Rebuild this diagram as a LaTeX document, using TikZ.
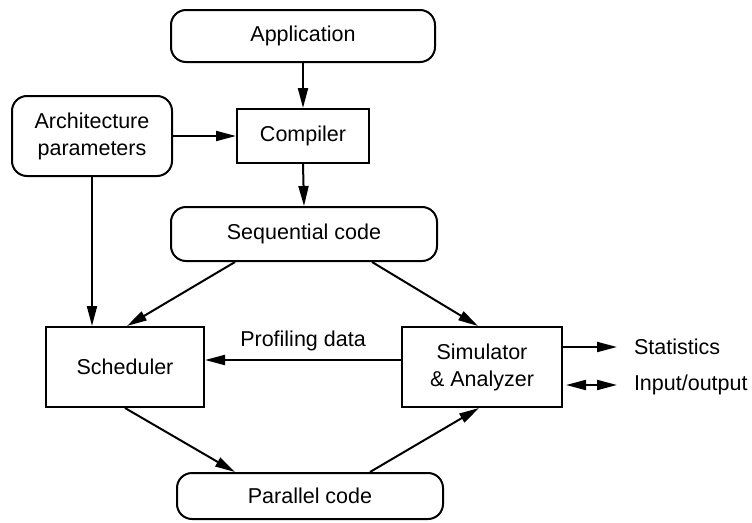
\documentclass[tikz,border=0pt]{standalone}
\usepackage{fontspec}
\setmainfont{Liberation Sans}
\usetikzlibrary{arrows.meta}
\begin{document}
\begin{tikzpicture}[x=1pt, y=-1pt, line width=2pt, >={Triangle[length=20pt,width=10pt]},
  every node/.style={font=\fontsize{21.5}{27}\selectfont, align=center, inner sep=0pt},
  rbox/.style={draw, rounded corners=15pt},
  sbox/.style={draw},
  conn/.style={->},
  dconn/.style={<->}]
\useasboundingbox (0,0) rectangle (752,522);
\node[rbox, minimum width=264pt, minimum height=52pt] (app) at (303,36) {Application};
\node[rbox, minimum width=160pt, minimum height=80pt] (arch) at (92,136) {Architecture\\parameters};
\node[sbox, minimum width=132pt, minimum height=54pt] (comp) at (303,136) {Compiler};
\node[rbox, minimum width=266pt, minimum height=54pt] (seq) at (304,234) {Sequential code};
\node[sbox, minimum width=158pt, minimum height=80pt] (sched) at (125,367) {Scheduler};
\node[sbox, minimum width=160pt, minimum height=80pt] (sim) at (482,367) {Simulator\\\& Analyzer};
\node[rbox, minimum width=266pt, minimum height=46pt] (par) at (310,496) {Parallel code};
\node[anchor=west] (stat) at (633,347) {Statistics};
\node[anchor=west] (io) at (633,385) {Input/output};
\coordinate (statend) at (617,347);
\coordinate (ioend) at (617,385);

\draw[conn] (app.south) -- (comp.north);
\draw[conn] (arch.east) -- (comp.west);
\draw[conn] (comp.south) -- (seq.north);
\draw[conn] (arch.south) -- (arch.south |- sched.north);
\draw[conn] (seq.south -| 235,0) -- (sched.north -| 127,0);
\draw[conn] (seq.south -| 372,0) -- (sim.north -| 478,0);
\draw[conn] (sched.south -| 125,0) -- (par.north -| 235,0);
\draw[conn] (par.north -| 370,0) -- (sim.south -| 479,0);
\draw[conn] (sim.west |- 0,360) -- node[above=8pt] (prof) {Profiling data} (sched.east |- 0,360);
\draw[conn] (sim.east |- statend) -- (statend);
\draw[dconn] (sim.east |- ioend) ++(3,0) coordinate (iostart) -- (ioend);
\end{tikzpicture}
\end{document}
